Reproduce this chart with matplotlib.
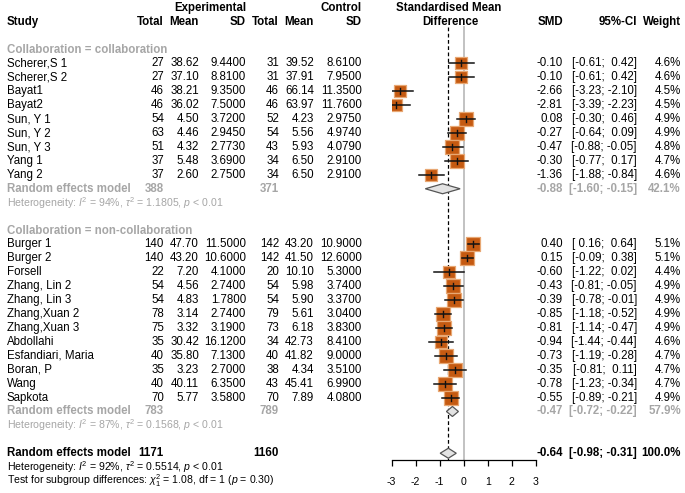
import matplotlib
matplotlib.use('Agg')
import matplotlib.pyplot as plt

plt.rcParams['font.family'] = ['Liberation Sans', 'DejaVu Sans']
plt.rcParams['mathtext.fontset'] = 'custom'
plt.rcParams['mathtext.rm'] = 'Liberation Sans'
plt.rcParams['mathtext.it'] = 'Liberation Sans:italic'
plt.rcParams['mathtext.bf'] = 'Liberation Sans:bold'
plt.rcParams['axes.unicode_minus'] = False

# ---- data: collaboration ----
names_1 = ['Scherer,S 1', 'Scherer,S 2', 'Bayat1', 'Bayat2', 'Sun, Y 1', 'Sun, Y 2',
           'Sun, Y 3', 'Yang 1', 'Yang 2']
ne_1 = [27, 27, 46, 46, 54, 63, 51, 37, 37]
me_1 = [38.62, 37.10, 38.21, 36.02, 4.50, 4.46, 4.32, 5.48, 2.60]
se_1 = [9.44, 8.81, 9.35, 7.50, 3.72, 2.945, 2.773, 3.69, 2.75]
nc_1 = [31, 31, 46, 46, 52, 54, 43, 34, 34]
mc_1 = [39.52, 37.91, 66.14, 63.97, 4.23, 5.56, 5.93, 6.50, 6.50]
sc_1 = [8.61, 7.95, 11.35, 11.76, 2.975, 4.974, 4.079, 2.91, 2.91]
smd_1 = [-0.10, -0.10, -2.66, -2.81, 0.08, -0.27, -0.47, -0.30, -1.36]
lo_1 = [-0.61, -0.61, -3.23, -3.39, -0.30, -0.64, -0.88, -0.77, -1.88]
hi_1 = [0.42, 0.42, -2.10, -2.23, 0.46, 0.09, -0.05, 0.17, -0.84]
w_1 = [4.6, 4.6, 4.5, 4.5, 4.9, 4.9, 4.8, 4.7, 4.6]
pooled_1 = dict(ne=388, nc=371, smd=-0.88, lo=-1.60, hi=-0.15, w=42.1,
                i2=94, tau2=1.1805)

# ---- data: non-collaboration ----
names_2 = ['Burger 1', 'Burger 2', 'Forsell', 'Zhang, Lin 2', 'Zhang, Lin 3',
           'Zhang,Xuan 2', 'Zhang,Xuan 3', 'Abdollahi', 'Esfandiari, Maria',
           'Boran, P', 'Wang', 'Sapkota']
ne_2 = [140, 140, 22, 54, 54, 78, 75, 35, 40, 35, 40, 70]
me_2 = [47.70, 43.20, 7.20, 4.56, 4.83, 3.14, 3.32, 30.42, 35.80, 3.23, 40.11, 5.77]
se_2 = [11.5, 10.6, 4.1, 2.74, 1.78, 2.74, 3.19, 16.12, 7.13, 2.70, 6.35, 3.58]
nc_2 = [142, 142, 20, 54, 54, 79, 73, 34, 40, 38, 43, 70]
mc_2 = [43.20, 41.50, 10.10, 5.98, 5.90, 5.61, 6.18, 42.73, 41.82, 4.34, 45.41, 7.89]
sc_2 = [10.9, 12.6, 5.3, 3.74, 3.37, 3.04, 3.83, 8.41, 9.00, 3.51, 6.99, 4.08]
smd_2 = [0.40, 0.15, -0.60, -0.43, -0.39, -0.85, -0.81, -0.94, -0.73, -0.35, -0.78, -0.55]
lo_2 = [0.16, -0.09, -1.22, -0.81, -0.78, -1.18, -1.14, -1.44, -1.19, -0.81, -1.23, -0.89]
hi_2 = [0.64, 0.38, 0.02, -0.05, -0.01, -0.52, -0.47, -0.44, -0.28, 0.11, -0.34, -0.21]
w_2 = [5.1, 5.1, 4.4, 4.9, 4.9, 4.9, 4.9, 4.6, 4.7, 4.7, 4.7, 4.9]
pooled_2 = dict(ne=783, nc=789, smd=-0.47, lo=-0.72, hi=-0.22, w=57.9,
                i2=87, tau2=0.1568)

# ---- overall ----
pooled_all = dict(ne=1171, nc=1160, smd=-0.64, lo=-0.98, hi=-0.31, w=100.0,
                  i2=92, tau2=0.5514)
chi2_sub, df_sub, p_sub = 1.08, 1, 0.30
xticks = [-3, -2, -1, 0, 1, 2, 3]

W, H = 685, 493
GRAY = '#a6a6a6'
SQ_FACE = '#c55a11'
SQ_EDGE = '#e8a874'
FS = 8.3
FS_SMALL = 7.55

# column right edges (pixels)
X_STUDY = 7
X_NE, X_ME, X_SE = 164, 199, 246
X_NC, X_MC, X_SC = 279, 314, 362
X_SMD, X_CI, X_W = 563, 637, 681
X_PLOT0, X_PLOT1 = 391.7, 535.7


def row_y(i):
    return 7.8 + 13.92 * i


fig = plt.figure(figsize=(W / 100, H / 100), dpi=100)
bg = fig.add_axes([0, 0, 1, 1])
bg.set_xlim(0, W)
bg.set_ylim(H, 0)
bg.axis('off')

ax = fig.add_axes([X_PLOT0 / W, 0, (X_PLOT1 - X_PLOT0) / W, 1])
ax.set_xlim(-3, 3)
ax.set_ylim(H, 0)
ax.patch.set_alpha(0)


def txt(x, i, s, ha='right', color='black', bold=False, size=FS):
    bg.text(x, row_y(i), s, ha=ha, va='center', color=color, fontsize=size,
            fontweight='bold' if bold else 'normal')


def ci_str(lo, hi):
    return '[%5.2f; %5.2f]' % (lo, hi)


# headers
txt(X_SE, 0, 'Experimental', bold=True)
txt(X_SC, 0, 'Control', bold=True)
txt(449, 0, 'Standardised Mean', ha='center', bold=True)
txt(X_STUDY, 1, 'Study', ha='left', bold=True)
for x, s in [(X_NE, 'Total'), (X_ME, 'Mean'), (X_SE, 'SD'), (X_NC, 'Total'),
             (X_MC, 'Mean'), (X_SC, 'SD'), (X_SMD, 'SMD'), (X_CI, '95%-CI'),
             (X_W, 'Weight')]:
    txt(x, 1, s, bold=True)
txt(450, 1, 'Difference', ha='center', bold=True)


def draw_pooled(i, pooled, color):
    y = row_y(i)
    txt(X_STUDY, i, 'Random effects model', ha='left', color=color, bold=True)
    txt(X_NE, i, '%d' % pooled['ne'], color=color, bold=True)
    txt(X_NC, i, '%d' % pooled['nc'], color=color, bold=True)
    txt(X_SMD, i, '%.2f' % pooled['smd'], color=color, bold=True)
    txt(X_CI, i, ci_str(pooled['lo'], pooled['hi']), color=color, bold=True)
    txt(X_W, i, '%.1f%%' % pooled['w'], color=color, bold=True)
    ax.fill([pooled['lo'], pooled['smd'], pooled['hi'], pooled['smd']],
            [y, y - 5, y, y + 5], facecolor='#e3e3e3', edgecolor='#555555',
            lw=0.9, zorder=5)


def draw_group(start, label, names, ne, me, se, nc, mc, sc, smd, lo, hi, w, pooled):
    txt(X_STUDY, start, label, ha='left', color=GRAY, bold=True)
    for k in range(len(names)):
        i = start + 1 + k
        y = row_y(i)
        txt(X_STUDY, i, names[k], ha='left')
        txt(X_NE, i, '%d' % ne[k])
        txt(X_ME, i, '%.2f' % me[k])
        txt(X_SE, i, '%.4f' % se[k])
        txt(X_NC, i, '%d' % nc[k])
        txt(X_MC, i, '%.2f' % mc[k])
        txt(X_SC, i, '%.4f' % sc[k])
        txt(X_SMD, i, '%.2f' % smd[k])
        txt(X_CI, i, ci_str(lo[k], hi[k]))
        txt(X_W, i, '%.1f%%' % w[k])
        side = 6.0 * w[k] ** 0.5
        ax.scatter([smd[k]], [y], marker='s', s=(side * 0.72) ** 2, c=SQ_FACE,
                   edgecolors=SQ_EDGE, linewidths=0.9, zorder=3)
        ax.plot([lo[k], hi[k]], [y, y], color='#111111', lw=1.1, zorder=4)
        ax.plot([smd[k], smd[k]], [y - 3, y + 3], color='#111111', lw=1.0, zorder=4)
    i = start + 1 + len(names)
    draw_pooled(i, pooled, GRAY)
    het = r'Heterogeneity: $I^2$ = %d%%, $\tau^2$ = %.4f, $p$ < 0.01' % (
        pooled['i2'], pooled['tau2'])
    txt(X_STUDY, i + 1, het, ha='left', color=GRAY, size=FS_SMALL)


draw_group(3, 'Collaboration = collaboration', names_1, ne_1, me_1, se_1, nc_1,
           mc_1, sc_1, smd_1, lo_1, hi_1, w_1, pooled_1)
draw_group(16, 'Collaboration = non-collaboration', names_2, ne_2, me_2, se_2, nc_2,
           mc_2, sc_2, smd_2, lo_2, hi_2, w_2, pooled_2)

draw_pooled(32, pooled_all, 'black')
txt(X_STUDY, 33, r'Heterogeneity: $I^2$ = %d%%, $\tau^2$ = %.4f, $p$ < 0.01' % (
    pooled_all['i2'], pooled_all['tau2']), ha='left', size=FS_SMALL)
txt(X_STUDY, 34, r'Test for subgroup differences: $\chi^2_1$ = %.2f, df = %d ($p$ = %.2f)' % (
    chi2_sub, df_sub, p_sub), ha='left', size=FS_SMALL)

# reference lines
AX_Y = 460
ax.plot([0, 0], [27, AX_Y], color='#bdbdbd', lw=1.3, zorder=1)
ax.plot([pooled_all['smd']] * 2, [27, AX_Y], color='black', lw=0.9,
        ls=(0, (3, 2)), zorder=2)

# x axis
for s in ['top', 'left', 'right']:
    ax.spines[s].set_visible(False)
ax.spines['bottom'].set_position(('data', AX_Y))
ax.spines['bottom'].set_bounds(-3, 3)
ax.spines['bottom'].set_linewidth(0.9)
ax.set_yticks([])
ax.set_xticks(xticks)
ax.set_xticklabels([str(t) for t in xticks])
ax.tick_params(axis='x', direction='out', length=4.3, width=0.9,
               labelsize=7.6, pad=8)

fig.savefig('out.png', dpi=100)
